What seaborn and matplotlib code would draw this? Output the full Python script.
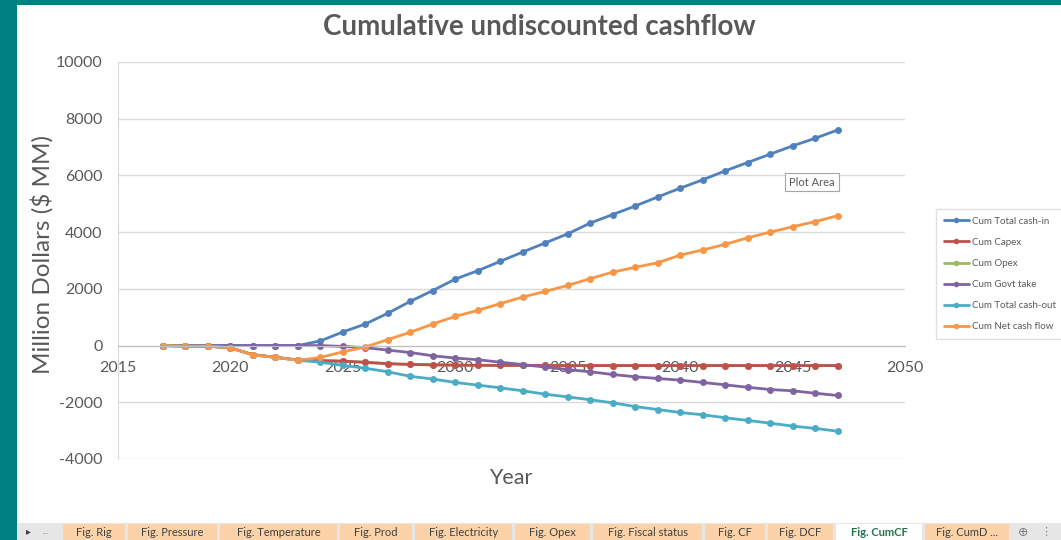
import pandas as pd
import seaborn as sns
import matplotlib.pyplot as plt
from matplotlib.lines import Line2D
from matplotlib.patches import Rectangle
from matplotlib.ticker import MultipleLocator

W, H = 1061, 540

years = list(range(2017, 2048))

cum_cash_in = [0, 0, 0, 0, 0, 0, 0, 165, 480, 760, 1140, 1560, 1940, 2345, 2640, 2970,
               3300, 3620, 3940, 4320, 4620, 4920, 5240, 5550, 5845, 6160, 6455, 6750,
               7040, 7310, 7600]
cum_capex = [0, -20, -20, -80, -320, -410, -510, -530, -550, -590, -640, -665, -680, -690,
             -695, -700, -700, -700, -705, -705, -705, -705, -705, -705, -705, -705, -705,
             -705, -705, -705, -705]
# opex is not visible in the chart: it sits under the capex line
cum_opex = [0, -20, -20, -80, -320, -410, -510, -530, -550, -590, -640, -665, -680, -690,
            -695, -700, -700, -700, -705, -705, -705, -705, -705, -705, -705, -705, -705,
            -705, -705, -705, -705]
cum_govt = [0, 0, 0, 0, 0, 0, 0, 0, -30, -75, -160, -245, -360, -440, -500, -585, -670,
            -760, -845, -925, -1020, -1100, -1160, -1220, -1300, -1385, -1470, -1550,
            -1595, -1680, -1760]
cum_cash_out = [0, -20, -20, -80, -330, -415, -520, -585, -700, -800, -925, -1085, -1180,
                -1300, -1395, -1490, -1595, -1715, -1810, -1910, -2020, -2150, -2255,
                -2360, -2440, -2545, -2640, -2735, -2840, -2920, -3020]
cum_net = [0, -20, -20, -80, -330, -415, -520, -420, -220, -50, 210, 470, 760, 1030, 1240,
           1480, 1710, 1910, 2120, 2360, 2590, 2760, 2920, 3190, 3370, 3570, 3800, 4000,
           4190, 4370, 4580]

series_names = ['Cum Total cash-in', 'Cum Capex', 'Cum Opex', 'Cum Govt take',
                'Cum Total cash-out', 'Cum Net cash flow']
series_values = [cum_cash_in, cum_capex, cum_opex, cum_govt, cum_cash_out, cum_net]
series_colors = ['#4F81BD', '#C0504D', '#9BBB59', '#8064A2', '#4BACC6', '#F79646']

tab_labels = ['Fig. Rig', 'Fig. Pressure', 'Fig. Temperature', 'Fig. Prod',
              'Fig. Electricity', 'Fig. Opex', 'Fig. Fiscal status', 'Fig. CF',
              'Fig. DCF', 'Fig. CumCF', 'Fig. CumD ...']

records = []
for name, vals in zip(series_names, series_values):
    for y, v in zip(years, vals):
        records.append({'year': y, 'value': v, 'series': name})
df = pd.DataFrame.from_records(records)

sns.set_style('white')
plt.rcParams['font.family'] = ['Lato', 'DejaVu Sans']
plt.rcParams['axes.unicode_minus'] = False
grey = '#595959'

fig = plt.figure(figsize=(W / 100, H / 100), dpi=100, facecolor='#008080')
fig.patches.append(Rectangle((17 / W, 1 - 523 / H), (W - 17) / W, (523 - 5) / H,
                             transform=fig.transFigure, facecolor='white',
                             edgecolor='none', zorder=-5))

ax = fig.add_axes([118 / W, 1 - 459 / H, (905 - 118) / W, (459 - 62) / H])
ax.set_zorder(5)
ax.patch.set_alpha(0)

palette = dict(zip(series_names, series_colors))
draw_order = ['Cum Opex', 'Cum Total cash-in', 'Cum Capex', 'Cum Govt take',
              'Cum Total cash-out', 'Cum Net cash flow']
sns.lineplot(data=df, x='year', y='value', hue='series', hue_order=draw_order,
             palette=palette, marker='o', markersize=5, markeredgewidth=0,
             linewidth=2, legend=False, ax=ax)

ax.set_xlim(2015, 2050)
ax.set_ylim(-4000, 10000)
ax.xaxis.set_major_locator(MultipleLocator(5))
ax.xaxis.set_minor_locator(MultipleLocator(1))
ax.yaxis.set_major_locator(MultipleLocator(2000))
ax.yaxis.set_minor_locator(MultipleLocator(400))
ax.grid(axis='y', color='#d9d9d9', linewidth=1)
ax.set_axisbelow(True)

for s in ['top', 'right']:
    ax.spines[s].set_visible(False)
ax.spines['left'].set_color('#d9d9d9')
ax.spines['bottom'].set_position(('data', 0))
ax.spines['bottom'].set_color('#bfbfbf')

ax.tick_params(axis='x', which='major', direction='inout', length=6, color='#bfbfbf',
               labelsize=11.5, labelcolor=grey, pad=8)
ax.tick_params(axis='x', which='minor', direction='in', length=4, color='#d9d9d9')
ax.tick_params(axis='y', which='major', length=0, labelsize=11.5, labelcolor=grey, pad=11)
ax.tick_params(axis='y', which='minor', direction='in', length=3, color='#e3e3e3')

ax.set_xlabel('')
ax.set_ylabel('')
fig.text(511 / W, 1 - 478 / H, 'Year', fontsize=15.5, color=grey, ha='center', va='center')
fig.text(42 / W, 1 - 255 / H, 'Million Dollars ($ MM)', fontsize=17.5, color=grey,
         rotation=90, ha='center', va='center')
fig.text(539 / W, 1 - 27 / H, 'Cumulative undiscounted cashflow', fontsize=20,
         fontweight='bold', color=grey, ha='center', va='center')

handles = [Line2D([], [], color=c, marker='o', markersize=4, markeredgewidth=0,
                  linewidth=2) for c in series_colors]
leg = fig.legend(handles, series_names, loc='center left',
                 bbox_to_anchor=(931 / W, 1 - 274 / H), fontsize=7, frameon=True,
                 fancybox=False, edgecolor='#d9d9d9', handlelength=2.6,
                 labelspacing=1.25, handletextpad=0.3, borderpad=0.8)
for t in leg.get_texts():
    t.set_color(grey)

fig.text(812 / W, 1 - 182 / H, 'Plot Area', fontsize=8, color=grey, ha='center',
         va='center', zorder=10,
         bbox=dict(boxstyle='square,pad=0.35', facecolor='white',
                   edgecolor='#a6a6a6', linewidth=0.8))

# sheet tab bar
fig.patches.append(Rectangle((17 / W, 0), (W - 17) / W, 17 / H, transform=fig.transFigure,
                             facecolor='#e6e6e6', edgecolor='none', zorder=1))
tab_edges = [63, 128, 220, 340, 415, 515, 593, 705, 768, 836, 925, 1012]
for i, label in enumerate(tab_labels):
    x0, x1 = tab_edges[i], tab_edges[i + 1] - 3
    active = label == 'Fig. CumCF'
    fig.patches.append(Rectangle((x0 / W, 0), (x1 - x0) / W, 16 / H,
                                 transform=fig.transFigure,
                                 facecolor='white' if active else '#fcd3a8',
                                 edgecolor='none', zorder=2))
    fig.text((x0 + x1) / 2 / W, 8 / H, label, fontsize=8,
             color='#217346' if active else '#404040',
             fontweight='bold' if active else 'normal', ha='center', va='center',
             zorder=3)
fig.text(28 / W, 8 / H, '\u25b8', fontsize=7, color='#404040', ha='center', va='center')
fig.text(46 / W, 8 / H, '...', fontsize=7, color='#808080', ha='center', va='center')
fig.text(1023 / W, 8 / H, '\u2295', fontsize=9, color='#808080', ha='center', va='center',
         family=['DejaVu Sans'])
fig.text(1046 / W, 8 / H, '\u22ee', fontsize=8, color='#808080', ha='center', va='center',
         family=['DejaVu Sans'])

plt.savefig('out.png', dpi=100, facecolor=fig.get_facecolor())
